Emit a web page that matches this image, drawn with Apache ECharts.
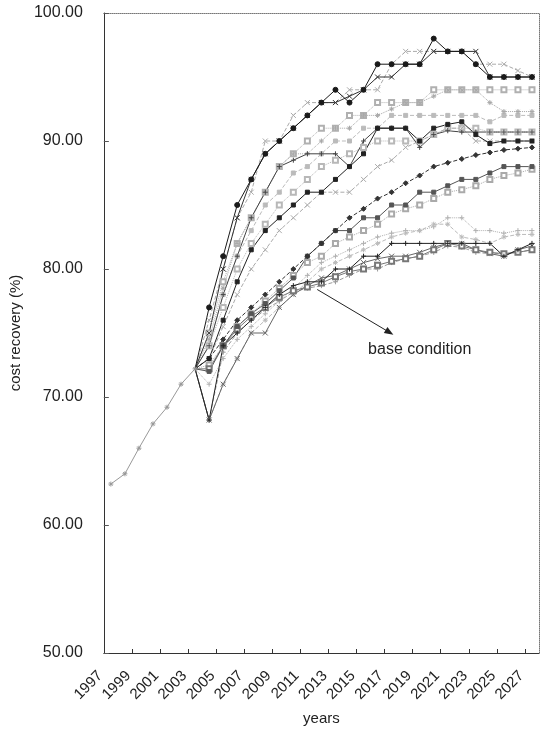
<!DOCTYPE html>
<html>
<head>
<meta charset="utf-8">
<script src="https://cdn.jsdelivr.net/npm/echarts@6/dist/echarts.min.js"></script>
<style>
html, body { margin: 0; padding: 0; background: #fff; }
#main { width: 543px; height: 731px; }
</style>
</head>
<body>
<div id="main"></div>
<script>
// years shared by every scenario before they split
const trunkYears = [1998, 1999, 2000, 2001, 2002, 2003, 2004];
const trunk = [63.2, 64.0, 66.0, 67.9, 69.2, 71.0, 72.2];

// scenario years
const years = [2005, 2006, 2007, 2008, 2009, 2010, 2011, 2012, 2013, 2014, 2015, 2016,
               2017, 2018, 2019, 2020, 2021, 2022, 2023, 2024, 2025, 2026, 2027, 2028];

// x axis tick labels (odd years)
const tickYears = [1997, 1999, 2001, 2003, 2005, 2007, 2009, 2011, 2013, 2015, 2017, 2019, 2021, 2023, 2025, 2027];

// scenarios, top band
const s01 = [77, 81, 85, 87, 89, 90, 91, 92, 93, 94, 93, 94, 96, 96, 96, 96, 98, 97, 97, 96, 95, 95, 95, 95];
const s02 = [75, 80, 84, 87, 89, 90, 91, 92, 93, 93, 93.5, 94, 95, 95, 96, 96, 97, 97, 97, 97, 95, 95, 95, 95];
const s03 = [76, 80, 84, 86, 90, 90, 92, 93, 93, 93, 94, 94, 94, 96, 97, 97, 97, 97, 97, 96, 96, 96, 95.5, 95];
// 92-94 band
const s04 = [75, 79, 82, 84, 86, 88, 89, 90, 91, 91, 92, 92, 93, 93, 93, 93, 94, 94, 94, 94, 94, 94, 94, 94];
const s05 = [74, 78, 81, 83, 85, 86, 87.5, 88, 89, 90, 90, 91, 91, 92, 92, 92, 92, 92, 92, 92, 91.5, 92, 92, 92];
const s06 = [74.5, 78.5, 82, 84, 86, 88, 89, 89, 90, 91, 91, 92, 92, 92.5, 93, 93, 93.5, 94, 94, 94, 93, 92.3, 92.3, 92.3];
// 90-91 band
const s07 = [73, 76, 79, 81.5, 83, 84, 85, 86, 86, 87, 88, 89, 91, 91, 91, 90, 91, 91.3, 91.5, 90.5, 89.8, 90, 90, 90];
const s08 = [74, 78, 81, 84, 86, 88, 88.5, 89, 89, 89, 88, 90, 91, 91, 91, 89.5, 90.5, 90.8, 90.7, 90.7, 90.7, 90.7, 90.7, 90.7];
const s09 = [74, 77, 80, 82, 83.5, 85, 86, 87, 88, 88.5, 89, 89.5, 90, 90, 90, 90, 90.5, 91, 91, 91, 90.7, 90.7, 90.7, 90.7];
const s10 = [73, 75.5, 78, 80, 81.5, 83, 84, 85, 86, 86, 86, 87, 88, 88.5, 89.5, 90, 90.5, 91, 91, 90, 90, 90, 90, 90];
// 87-89 band
const s11 = [73, 74.5, 76, 77, 78, 79, 80, 81, 82, 83, 84, 84.7, 85.5, 86, 86.7, 87.3, 88, 88.3, 88.6, 88.9, 89.1, 89.3, 89.4, 89.5];
const s12 = [72, 74, 75.5, 76.5, 77.3, 78.3, 79.3, 81, 82, 83, 83, 84, 84, 85, 85, 86, 86, 86.5, 87, 87, 87.5, 88, 88, 88];
const s13 = [72.5, 74, 75.5, 76.5, 77.5, 78.5, 79.5, 80.5, 81, 82, 82.5, 83, 83.5, 84.3, 84.7, 85, 85.5, 86, 86.2, 86.5, 87, 87.3, 87.5, 87.8];
// 81-84 band
const s14 = [71, 73, 74.5, 75.5, 76.5, 77.5, 78.5, 79.5, 80.5, 81, 81.5, 82, 82.5, 82.8, 83, 83, 83.3, 84, 84, 83, 83, 82.8, 83, 83];
const s15 = [68.2, 71, 73, 75, 76, 77, 78, 79, 80, 80.5, 81, 81.5, 82, 82.5, 82.8, 83, 83.5, 83.5, 82.5, 82.3, 82, 82.5, 82.7, 82.7];
const s16 = [68.2, 74, 75, 76, 77, 78, 78.7, 79, 79, 80, 80, 81, 81, 82, 82, 82, 82, 82, 82, 82, 82, 81, 81.5, 82];
const s17 = [68.2, 71, 73, 75, 75, 77, 78, 78.7, 79.3, 79.5, 80, 80.5, 80.8, 81, 81, 81.3, 81.7, 82, 82, 81.5, 81.2, 81, 81.5, 81.8];
const base = [72.2, 74, 75.3, 76.3, 77, 77.8, 78.3, 78.6, 78.9, 79.4, 79.8, 80, 80.3, 80.6, 80.8, 81, 81.5, 82, 81.8, 81.5, 81.3, 81.2, 81.3, 81.5];
const s19 = [68.2, 73.5, 75, 76, 76.8, 77.5, 78.2, 78.5, 78.7, 79, 79.5, 80, 80, 80.5, 80.8, 81, 81.3, 81.8, 81.7, 81.3, 81.2, 81.2, 81.3, 81.5];

// arrow and label for the base case
const arrowFrom = [2012.7, 78.4];
const arrowTo = [2017.85, 75.05];
const arrowText = [2020.0, 73.7];

const X_SYM = 'path://M0,0L10,10M10,0L0,10';
const PLUS_SYM = 'path://M5,0L5,10M0,5L10,5';
const STAR_SYM = 'path://M5,0L5,10M0,5L10,5M1.5,1.5L8.5,8.5M8.5,1.5L1.5,8.5';

// light lines first, dark lines on top
const scenarios = [
    { d: s03, c: '#aaaaaa', t: 'dashed', s: X_SYM },
    { d: s04, c: '#b0b0b0', t: 'dotted', s: 'emptyRect' },
    { d: s05, c: '#bbbbbb', t: 'dashed', s: 'rect' },
    { d: s06, c: '#a8a8a8', t: 'dotted', s: STAR_SYM },
    { d: s09, c: '#b8b8b8', t: 'dotted', s: 'emptyRect' },
    { d: s10, c: '#aaaaaa', t: 'dashed', s: X_SYM },
    { d: s13, c: '#aaaaaa', t: 'dotted', s: 'emptyRect' },
    { d: s14, c: '#b0b0b0', t: 'dotted', s: PLUS_SYM },
    { d: s15, c: '#bbbbbb', t: 'dashed', s: STAR_SYM },
    { d: s19, c: '#999999', t: 'dashed', s: PLUS_SYM },
    { d: s17, c: '#666666', t: 'solid', s: X_SYM },
    { d: base, c: '#777777', t: 'solid', s: 'emptyRect', base: true },
    { d: s12, c: '#555555', t: 'solid', s: 'rect' },
    { d: s11, c: '#333333', t: 'dashed', s: 'diamond' },
    { d: s08, c: '#444444', t: 'solid', s: PLUS_SYM },
    { d: s07, c: '#222222', t: 'solid', s: 'rect' },
    { d: s16, c: '#222222', t: 'solid', s: PLUS_SYM },
    { d: s02, c: '#333333', t: 'solid', s: X_SYM },
    { d: s01, c: '#1a1a1a', t: 'solid', s: 'circle' }
];

const trunkEnd = trunk[trunk.length - 1];
const trunkLast = trunkYears[trunkYears.length - 1];

let series = scenarios.map(function (sc, i) {
    let data = [{ value: [trunkLast, trunkEnd], symbol: 'none' }];
    sc.d.forEach(function (v, k) { data.push([years[k], v]); });
    let item = {
        name: 'scenario ' + (i + 1),
        type: 'line',
        data: data,
        symbol: sc.s,
        symbolSize: sc.s === 'rect' ? 4 : 5,
        showAllSymbol: true,
        animation: false,
        lineStyle: { color: sc.c, width: 1, type: sc.t },
        itemStyle: { color: sc.c, borderColor: sc.c, borderWidth: 1 }
    };
    if (sc.base) {
        item.markLine = {
            silent: true,
            symbol: ['none', 'triangle'],
            symbolSize: [7, 9],
            label: { show: false },
            lineStyle: { color: '#222', width: 1, type: 'solid' },
            data: [[{ coord: arrowFrom }, { coord: arrowTo }]]
        };
        item.markPoint = {
            silent: true,
            symbol: 'rect',
            symbolSize: 0,
            label: {
                show: true,
                position: 'inside',
                formatter: 'base condition',
                color: '#222',
                fontSize: 16,
                fontFamily: 'Liberation Sans'
            },
            data: [{ coord: arrowText }]
        };
    }
    return item;
});

series.unshift({
    name: 'history',
    type: 'line',
    data: trunkYears.map(function (y, k) { return [y, trunk[k]]; }),
    symbol: STAR_SYM,
    symbolSize: 5,
    animation: false,
    lineStyle: { color: '#999', width: 1 },
    itemStyle: { color: '#999', borderColor: '#999', borderWidth: 1 }
});

const tickPos = tickYears.map(function (y) { return y + 0.5; });

let myChart = echarts.init(document.getElementById('main'));
let option = {
    backgroundColor: '#fff',
    grid: { left: 103, right: 4, top: 13, bottom: 73 },
    xAxis: [{
        type: 'value',
        min: 1997.5,
        max: 2028.5,
        name: 'years',
        nameLocation: 'middle',
        nameGap: 58,
        nameTextStyle: { color: '#222', fontSize: 15, fontFamily: 'Liberation Sans' },
        axisLine: { lineStyle: { color: '#333', width: 1 } },
        axisTick: { show: true, inside: true, length: 4, customValues: tickPos, lineStyle: { color: '#333' } },
        axisLabel: {
            rotate: 45,
            margin: 17,
            padding: [0, 5, 0, 0],
            color: '#222',
            fontSize: 15,
            fontFamily: 'Liberation Sans',
            customValues: tickPos,
            formatter: function (v) { return String(Math.floor(v)); }
        },
        splitLine: { show: false }
    }, {
        type: 'value',
        position: 'top',
        min: 1997.5,
        max: 2028.5,
        axisLine: { show: true, lineStyle: { color: '#777', type: 'dotted' } },
        axisTick: { show: false },
        axisLabel: { show: false },
        splitLine: { show: false }
    }],
    yAxis: [{
        type: 'value',
        min: 50,
        max: 100,
        interval: 10,
        name: 'cost recovery (%)',
        nameLocation: 'middle',
        nameGap: 80,
        nameTextStyle: { color: '#222', fontSize: 15, fontFamily: 'Liberation Sans' },
        axisLine: { show: true, lineStyle: { color: '#333', width: 1 } },
        axisTick: { show: true, inside: true, length: 5, lineStyle: { color: '#555' } },
        axisLabel: {
            margin: 21,
            color: '#222',
            fontSize: 16,
            fontFamily: 'Liberation Sans',
            formatter: function (v) { return v.toFixed(2); }
        },
        splitLine: { show: false }
    }, {
        type: 'value',
        position: 'right',
        min: 50,
        max: 100,
        axisLine: { show: true, lineStyle: { color: '#777', type: 'dotted' } },
        axisTick: { show: false },
        axisLabel: { show: false },
        splitLine: { show: false }
    }],
    series: series
};
myChart.setOption(option);
</script>
</body>
</html>
